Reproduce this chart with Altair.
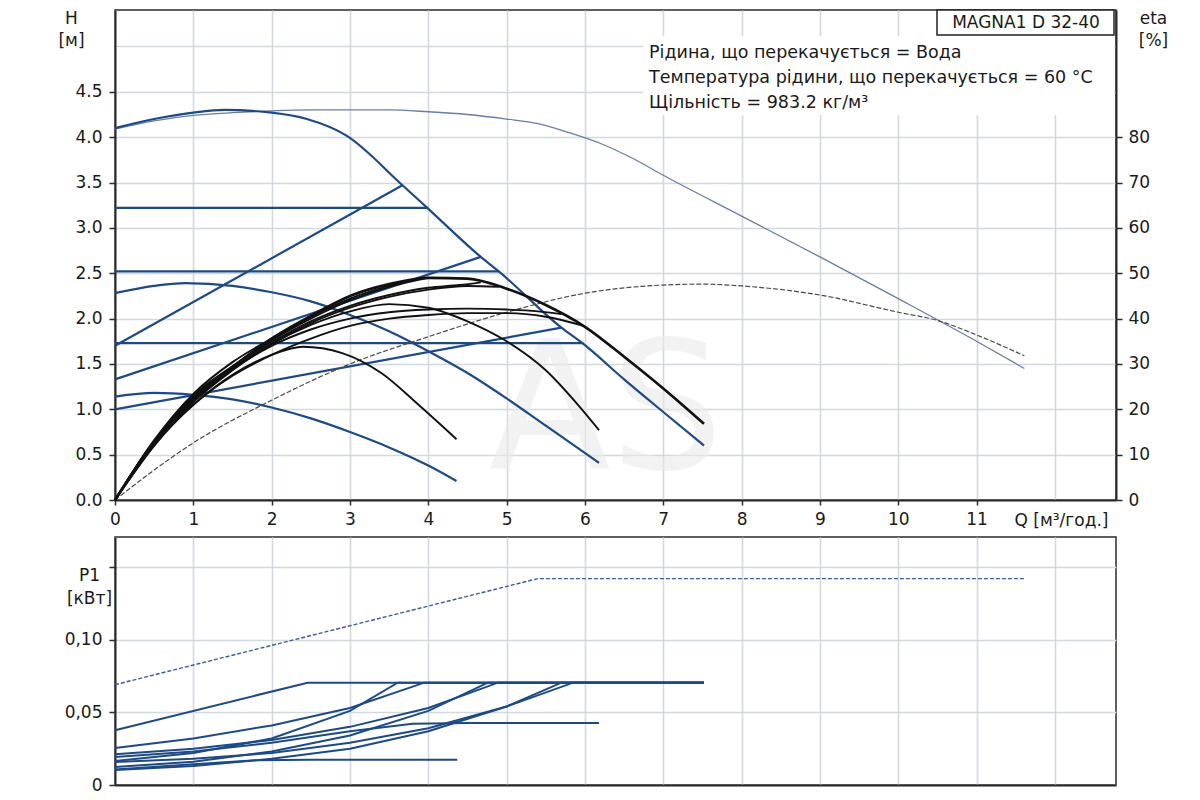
import altair as alt
import pandas as pd

# ---------------- data ----------------
Q_TICKS = list(range(0, 13))
H_TICKS = [0.0, 0.5, 1.0, 1.5, 2.0, 2.5, 3.0, 3.5, 4.0, 4.5, 5.0]
ETA_TICKS = [0, 10, 20, 30, 40, 50, 60, 70, 80]
P_TICKS = [0.0, 0.05, 0.10, 0.15]

# Q-H curves, H [m]
Q_HMAX = [0, 0.5, 1, 1.5, 2, 2.5, 3, 3.5, 4, 4.5, 5, 5.4, 5.8, 6.2, 6.6, 7, 8, 9, 10, 11, 11.61]
H_HMAX = [4.09, 4.18, 4.24, 4.27, 4.29, 4.3, 4.3, 4.3, 4.28, 4.25, 4.2, 4.15, 4.05, 3.93, 3.77, 3.58, 3.13, 2.68, 2.22, 1.75, 1.45]

Q_III = [0, 0.5, 1, 1.4, 2, 2.45, 2.95, 3.67, 4.0, 4.67, 4.9, 5.7, 5.98, 6.5, 7, 7.52]
H_III = [4.1, 4.2, 4.27, 4.3, 4.27, 4.2, 4.02, 3.47, 3.21, 2.68, 2.52, 1.9, 1.72, 1.33, 0.97, 0.6]

Q_CPH = [0, 4.0]
H_CPH = [3.22, 3.22]
Q_CPM = [0, 4.9]
H_CPM = [2.52, 2.52]
Q_CPL = [0, 5.98]
H_CPL = [1.73, 1.73]

Q_PPH = [0, 3.67]
H_PPH = [1.7, 3.47]
Q_PPM = [0, 4.67]
H_PPM = [1.33, 2.68]
Q_PPL = [0, 5.7]
H_PPL = [1.0, 1.9]

Q_I = [0, 0.5, 1, 1.5, 2, 2.5, 3, 3.5, 4, 4.36]
H_I = [1.14, 1.18, 1.16, 1.11, 1.02, 0.9, 0.75, 0.58, 0.38, 0.21]
Q_II = [0, 0.5, 0.9, 1.5, 2, 2.5, 3, 3.5, 4, 4.5, 5, 5.5, 6.18]
H_II = [2.28, 2.36, 2.39, 2.36, 2.29, 2.19, 2.04, 1.86, 1.64, 1.4, 1.12, 0.82, 0.41]

# efficiency curves, eta [%]
Q_EMAX = [0, 0.5, 1, 2, 3, 4, 5, 6, 7, 7.5, 8, 9, 10, 10.5, 11, 11.61]
E_EMAX = [0, 6.6, 12.6, 22, 30, 36, 41.4, 45.6, 47.4, 47.6, 47.2, 45.2, 41.4, 39.6, 36.4, 31.8]

Q_EIII = [0, 0.5, 1, 1.5, 2, 2.5, 3, 3.5, 4, 4.5, 5, 5.5, 6, 6.5, 7, 7.52]
E_EIII = [0, 12.8, 23.0, 29.4, 35.6, 40.6, 45.0, 47.6, 49.0, 48.8, 46.6, 43.0, 38.2, 31.6, 24.6, 16.8]

Q_ECPH = [0, 0.5, 1, 1.5, 2, 2.5, 3, 3.5, 4]
E_ECPH = [0, 12.4, 22.4, 29.4, 35.2, 40.0, 44.0, 47.0, 49.0]
Q_EPPH = [0, 0.5, 1, 1.5, 2, 2.5, 3, 3.67]
E_EPPH = [0, 13.2, 23.4, 30.4, 35.6, 40.4, 44.4, 48.1]
Q_ECPM = [0, 0.5, 1, 1.5, 2, 2.5, 3, 3.5, 4, 4.5, 4.9]
E_ECPM = [0, 12.0, 21.6, 28.6, 34.4, 39.0, 42.4, 44.8, 46.4, 47.2, 47.0]
Q_EPPM = [0, 0.5, 1, 1.5, 2, 2.5, 3, 3.5, 4, 4.4, 4.67]
E_EPPM = [0, 12.8, 22.4, 29.4, 34.8, 39.4, 42.8, 45.2, 46.8, 47.4, 48.0]
Q_ECPL = [0, 0.5, 1, 1.5, 2, 2.5, 3, 3.5, 4, 4.5, 5, 5.5, 5.98]
E_ECPL = [0, 12.0, 21.0, 27.4, 32.0, 35.6, 38.4, 40.0, 40.8, 41.2, 41.2, 40.4, 38.4]
Q_EPPL = [0, 0.5, 1, 1.5, 2, 2.5, 3, 3.5, 4, 4.5, 5, 5.4, 5.7]
E_EPPL = [0, 13.0, 22.0, 28.8, 34.0, 37.6, 40.0, 41.4, 42.0, 42.2, 42.0, 41.6, 41.0]
Q_EI = [0, 0.5, 1, 1.5, 2, 2.4, 2.9, 3.4, 3.9, 4.36]
E_EI = [0, 12.4, 21.0, 27.6, 32.0, 33.8, 32.4, 28.0, 20.6, 13.4]
Q_EII = [0, 0.5, 1, 1.5, 2, 2.5, 3, 3.5, 4, 4.5, 5, 5.5, 5.9, 6.18]
E_EII = [0, 12.8, 22.0, 29.0, 34.4, 38.6, 41.6, 43.2, 42.4, 39.4, 35.0, 28.6, 21.2, 15.4]

# power curves, P1 [kW]
Q_PMAX = [0, 5.4, 11.61]
P_PMAX = [0.069, 0.142, 0.142]
Q_PIII = [0, 2.46, 7.52]
P_PIII = [0.0377, 0.0704, 0.0704]
Q_PCPH = [0, 1, 2, 3, 3.95, 7.52]
P_PCPH = [0.0254, 0.032, 0.041, 0.053, 0.0704, 0.0704]
Q_PPPH = [0, 1, 2, 3, 3.61, 7.52]
P_PPPH = [0.0165, 0.022, 0.032, 0.051, 0.0704, 0.0704]
Q_PCPM = [0, 1, 2, 3, 4, 4.89, 7.52]
P_PCPM = [0.0211, 0.025, 0.031, 0.040, 0.053, 0.0704, 0.0704]
Q_PPPM = [0, 1, 2, 3, 4, 4.76, 7.52]
P_PPPM = [0.0124, 0.016, 0.023, 0.034, 0.051, 0.0704, 0.0704]
Q_PCPL = [0, 1, 2, 3, 4, 5, 5.85, 7.52]
P_PCPL = [0.0158, 0.018, 0.022, 0.029, 0.039, 0.054, 0.0704, 0.0704]
Q_PPPL = [0, 1, 2, 3, 4, 5, 5.7, 7.52]
P_PPPL = [0.0103, 0.013, 0.018, 0.025, 0.037, 0.054, 0.0704, 0.0704]
Q_PII = [0, 1, 2, 3, 3.8, 4.5, 6.18]
P_PII = [0.0193, 0.023, 0.029, 0.037, 0.0422, 0.0426, 0.0426]
Q_PI = [0, 1, 1.8, 2.5, 4.37]
P_PI = [0.0106, 0.0142, 0.0170, 0.0174, 0.0174]

MODEL = "MAGNA1 D 32-40"
NOTES = ["Рідина, що перекачується = Вода",
         "Температура рідини, що перекачується = 60 °C",
         "Щільність = 983.2 кг/м³"]
WATERMARK = "AS"


def frame(items):
    rows = []
    for name, qs, vs in items:
        for q, v in zip(qs, vs):
            rows.append({"s": name, "Q": q, "V": v})
    return pd.DataFrame(rows)


FONT = "DejaVu Sans"
BLUE = "#1d4a84"
TXT = "#1a1a1a"

W = 1001
H_TOP = 490
H_BOT = 248

X_SCALE = alt.Scale(domain=[0, 12.78], nice=False)
H_SCALE = alt.Scale(domain=[0, 5.402], nice=False)
E_SCALE = alt.Scale(domain=[0, 108.05], nice=False)
P_SCALE = alt.Scale(domain=[0, 0.1706], nice=False)

X_TOP_AXIS = alt.Axis(
    values=Q_TICKS, grid=True, tickSize=5, labelPadding=6, labelFlush=False,
    labelExpr="datum.value > 11.5 ? '' : datum.label",
    tickColor={"condition": {"test": "datum.value > 11.5", "value": "transparent"}, "value": "#2b2b2b"},
    title="Q [м³/год.]", titleX=946, titleY=20, titleAngle=0,
    titleAlign="center", titleBaseline="middle")
X_BOT_AXIS = alt.Axis(values=Q_TICKS, grid=True, labels=False, ticks=False, title="")


def x_top():
    return alt.X("Q:Q", scale=X_SCALE, axis=X_TOP_AXIS)


def x_bot():
    return alt.X("Q:Q", scale=X_SCALE, axis=X_BOT_AXIS)


y_h = alt.Y("V:Q", scale=H_SCALE, axis=alt.Axis(
    values=H_TICKS, grid=True, tickSize=6, labelPadding=7, labelFlush=False,
    labelExpr="datum.value > 4.7 ? '' : format(datum.value, '.1f')",
    tickColor={"condition": {"test": "datum.value > 4.7", "value": "transparent"}, "value": "#2b2b2b"},
    title=["H", "[м]"], titleX=-44, titleY=0, titleAngle=0, titleAlign="center",
    titleBaseline="top", titleLineHeight=22))
y_h_plain = alt.Y("V:Q", scale=H_SCALE, axis=None)

y_e = alt.Y("V:Q", scale=E_SCALE, axis=alt.Axis(
    orient="right", values=ETA_TICKS, grid=False, tickSize=6, labelPadding=6, labelFlush=False,
    title=["eta", "[%]"], titleX=37, titleY=0, titleAngle=0, titleAlign="center",
    titleBaseline="top", titleLineHeight=22))
y_e_plain = alt.Y("V:Q", scale=E_SCALE, axis=None)

P_AXIS = alt.Axis(
    values=P_TICKS, grid=True, tickSize=6, labelPadding=7, labelFlush=False,
    labelExpr="datum.value == 0 ? '0' : (datum.value > 0.12 ? '' : replace(format(datum.value, '.2f'), '.', ','))",
    title=["P1", "[кВт]"], titleX=-26, titleY=30, titleAngle=0, titleAlign="center",
    titleBaseline="top", titleLineHeight=23)


def y_p():
    return alt.Y("V:Q", scale=P_SCALE, axis=P_AXIS)


one = pd.DataFrame({"t": [WATERMARK]})

watermark = alt.Chart(one).mark_text(
    font=FONT, fontSize=178, color="#eaeaea", opacity=0.6, align="center",
    baseline="alphabetic").encode(text="t:N", x=alt.value(491), y=alt.value(458))

text_bg = alt.Chart(one).mark_rect(fill="white").encode(
    x=alt.value(528), x2=alt.value(999), y=alt.value(26), y2=alt.value(105))

blue_thin = alt.Chart(frame([("max", Q_HMAX, H_HMAX)])).mark_line(
    color="#6b7ca4", strokeWidth=1.3, interpolate="monotone").encode(
    x=x_top(), y=y_h, detail="s:N")

blue_thick = alt.Chart(frame([
    ("III", Q_III, H_III), ("CPH", Q_CPH, H_CPH), ("CPM", Q_CPM, H_CPM),
    ("CPL", Q_CPL, H_CPL), ("PPH", Q_PPH, H_PPH), ("PPM", Q_PPM, H_PPM),
    ("PPL", Q_PPL, H_PPL), ("I", Q_I, H_I), ("II", Q_II, H_II)])).mark_line(
    color=BLUE, strokeWidth=2.2, interpolate="monotone").encode(
    x=x_top(), y=y_h_plain, detail="s:N")

eta_thin = alt.Chart(frame([("emax", Q_EMAX, E_EMAX)])).mark_line(
    color="#4a4a4a", strokeWidth=1.2, strokeDash=[5, 2], interpolate="monotone").encode(
    x=x_top(), y=y_e, detail="s:N")

eta_black = alt.Chart(frame([
    ("CPH", Q_ECPH, E_ECPH), ("PPH", Q_EPPH, E_EPPH), ("CPM", Q_ECPM, E_ECPM),
    ("PPM", Q_EPPM, E_EPPM), ("CPL", Q_ECPL, E_ECPL), ("PPL", Q_EPPL, E_EPPL),
    ("I", Q_EI, E_EI), ("II", Q_EII, E_EII)])).mark_line(
    color="#111111", strokeWidth=1.9, interpolate="monotone").encode(
    x=x_top(), y=y_e_plain, detail="s:N")

eta_iii = alt.Chart(frame([("III", Q_EIII, E_EIII)])).mark_line(
    color="#111111", strokeWidth=2.7, interpolate="monotone").encode(
    x=x_top(), y=y_e_plain, detail="s:N")

notes = []
for i, line in enumerate(NOTES):
    notes.append(alt.Chart(pd.DataFrame({"t": [line]})).mark_text(
        font=FONT, fontSize=17.5, color=TXT, align="left", baseline="middle").encode(
        text="t:N", x=alt.value(534), y=alt.value(43 + 25 * i)))

model_box = alt.Chart(one).mark_rect(fill="white", stroke="#222222", strokeWidth=1.5).encode(
    x=alt.value(822), x2=alt.value(999), y=alt.value(0), y2=alt.value(25))
model_text = alt.Chart(pd.DataFrame({"t": [MODEL]})).mark_text(
    font=FONT, fontSize=17, color=TXT, align="center", baseline="middle").encode(
    text="t:N", x=alt.value(911), y=alt.value(13))

top = alt.layer(
    watermark, text_bg, blue_thin, blue_thick, eta_thin, eta_black, eta_iii,
    *notes, model_box, model_text
).resolve_scale(y="independent").properties(width=W, height=H_TOP)

# ---------------- bottom: P1 ----------------
p_thin = alt.Chart(frame([("pmax", Q_PMAX, P_PMAX)])).mark_line(
    color="#3d5c8c", strokeWidth=1.4, strokeDash=[4, 2]).encode(
    x=x_bot(), y=y_p(), detail="s:N")

p_blue = alt.Chart(frame([
    ("III", Q_PIII, P_PIII), ("CPH", Q_PCPH, P_PCPH), ("PPH", Q_PPPH, P_PPPH),
    ("CPM", Q_PCPM, P_PCPM), ("PPM", Q_PPPM, P_PPPM), ("CPL", Q_PCPL, P_PCPL),
    ("PPL", Q_PPPL, P_PPPL), ("II", Q_PII, P_PII), ("I", Q_PI, P_PI)])).mark_line(
    color=BLUE, strokeWidth=2.0).encode(
    x=x_bot(), y=y_p(), detail="s:N")

bottom = alt.layer(p_thin, p_blue).properties(width=W, height=H_BOT)

chart = alt.vconcat(top, bottom, spacing=37, bounds="flush").resolve_scale(
    y="independent"
).properties(
    padding={"left": 49, "top": 0, "right": 10, "bottom": 5}
).configure_view(
    stroke="#2b2b2b", strokeWidth=1.5
).configure_axis(
    labelFont=FONT, labelFontSize=17, labelColor=TXT,
    titleFont=FONT, titleFontSize=17, titleFontWeight="normal", titleColor=TXT,
    gridColor="#d4d8df", gridWidth=1.6,
    domainColor="#2b2b2b", domainWidth=2,
    tickColor="#2b2b2b", tickWidth=1.5
)

chart.save("out.html", embed_options={"renderer": "svg", "actions": False})
